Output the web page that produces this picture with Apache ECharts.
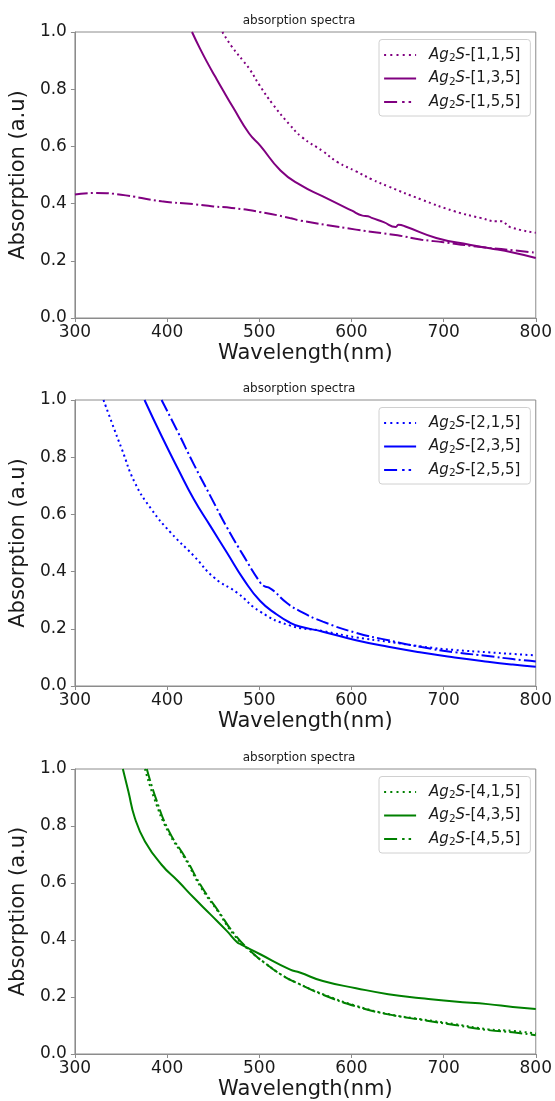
<!DOCTYPE html>
<html>
<head>
<meta charset="utf-8">
<script src="https://cdn.jsdelivr.net/npm/echarts@6/dist/echarts.min.js"></script>
<style>
html,body{margin:0;padding:0;background:#fff;}
#chart{width:555px;height:1101px;}
</style>
</head>
<body>
<div id="chart"></div>
<script>
// ---------- data ----------
const chartTitle = 'absorption spectra';
const xAxisName = 'Wavelength(nm)';
const yAxisName = 'Absorption (a.u)';

// Panel 1 (purple)
const wl_115 = [460, 470, 483, 490, 500, 515, 533, 546, 569, 585, 605, 622, 640, 676, 712, 740, 758, 763, 772, 800];
const ab_115 = [1.0, 0.95, 0.897, 0.868, 0.815, 0.746, 0.676, 0.633, 0.583, 0.545, 0.513, 0.485, 0.46, 0.414, 0.373, 0.35, 0.338, 0.338, 0.318, 0.298];
const wl_135 = [427, 436, 445, 452, 460, 472, 489, 501, 523, 544, 569, 600, 612, 618, 622, 635, 648, 651, 660, 692, 728, 750, 775, 800];
const ab_135 = [1.0, 0.94, 0.885, 0.845, 0.8, 0.734, 0.645, 0.603, 0.516, 0.466, 0.425, 0.376, 0.358, 0.356, 0.35, 0.335, 0.318, 0.326, 0.318, 0.28, 0.256, 0.244, 0.229, 0.21];
const wl_155 = [300, 322, 350, 394, 429, 450, 470, 500, 533, 544, 605, 650, 676, 700, 728, 750, 775, 800];
const ab_155 = [0.432, 0.437, 0.431, 0.408, 0.398, 0.39, 0.385, 0.371, 0.35, 0.341, 0.309, 0.289, 0.274, 0.265, 0.253, 0.245, 0.237, 0.228];

// Panel 2 (blue)
const wl_215 = [331, 340, 351, 365, 383, 404, 429, 451, 476, 501, 533, 569, 605, 640, 676, 712, 748, 775, 800];
const ab_215 = [1.0, 0.921, 0.827, 0.711, 0.618, 0.536, 0.455, 0.379, 0.326, 0.26, 0.212, 0.192, 0.17, 0.155, 0.138, 0.126, 0.118, 0.112, 0.107];
const wl_235 = [375.5, 394, 412, 429, 447, 465, 483, 501, 519, 533, 544, 569, 605, 640, 676, 712, 748, 775, 800];
const ab_235 = [1.0, 0.874, 0.758, 0.653, 0.559, 0.466, 0.373, 0.297, 0.25, 0.222, 0.208, 0.19, 0.16, 0.137, 0.117, 0.1, 0.085, 0.075, 0.067];
const wl_255 = [394, 412, 429, 447, 465, 483, 501, 506, 510, 530, 544, 569, 605, 640, 676, 712, 748, 775, 800];
const ab_255 = [1.0, 0.886, 0.775, 0.664, 0.554, 0.455, 0.362, 0.348, 0.345, 0.29, 0.262, 0.225, 0.186, 0.16, 0.136, 0.118, 0.105, 0.094, 0.086];

// Panel 3 (green)
const wl_415 = [376, 386, 401, 419, 437, 455, 472, 490, 508, 526, 540, 569, 605, 640, 676, 712, 748, 775, 800];
const ab_415 = [1.0, 0.897, 0.781, 0.688, 0.583, 0.501, 0.42, 0.361, 0.315, 0.274, 0.251, 0.21, 0.169, 0.14, 0.122, 0.105, 0.087, 0.081, 0.072];
const wl_435 = [352, 358, 365, 376, 394, 412, 429, 447, 465, 476, 480, 501, 533, 544, 569, 605, 640, 676, 712, 748, 775, 800];
const ab_435 = [1.0, 0.921, 0.828, 0.746, 0.664, 0.606, 0.548, 0.49, 0.431, 0.392, 0.385, 0.35, 0.297, 0.286, 0.256, 0.231, 0.21, 0.196, 0.184, 0.175, 0.165, 0.158];
const wl_455 = [378, 388, 402, 420, 438, 456, 473, 491, 509, 527, 541, 569, 605, 640, 676, 712, 748, 775, 800];
const ab_455 = [1.0, 0.895, 0.782, 0.688, 0.584, 0.5, 0.421, 0.36, 0.312, 0.272, 0.249, 0.208, 0.167, 0.139, 0.12, 0.102, 0.084, 0.076, 0.066];

const names1 = ['Ag2S-[1,1,5]', 'Ag2S-[1,3,5]', 'Ag2S-[1,5,5]'];
const names2 = ['Ag2S-[2,1,5]', 'Ag2S-[2,3,5]', 'Ag2S-[2,5,5]'];
const names3 = ['Ag2S-[4,1,5]', 'Ag2S-[4,3,5]', 'Ag2S-[4,5,5]'];

// ---------- styling / layout ----------
const FONT = 'DejaVu Sans';
const panels = [
  { top: 32,  color: '#800080', names: names1, series: [[wl_115, ab_115], [wl_135, ab_135], [wl_155, ab_155]] },
  { top: 400, color: '#0000ff', names: names2, series: [[wl_215, ab_215], [wl_235, ab_235], [wl_255, ab_255]] },
  { top: 769, color: '#008000', names: names3, series: [[wl_415, ab_415], [wl_435, ab_435], [wl_455, ab_455]] }
];
const dashStyles = [[2, 3.3], 'solid', [12.8, 3.2, 2, 3.2]];
const legendDashStyles = [[2, 4.2], 'solid', [13, 5, 2.5, 4, 2.5, 10]];
const PLOT_LEFT = 72.7, PLOT_W = 466, PLOT_H = 286;
const FRAME = '#8c8c8c';
const TEXT = '#1a1a1a';

const option = {
  animation: false,
  backgroundColor: '#fff',
  textStyle: { fontFamily: FONT },
  title: panels.map(p => ({
    text: chartTitle,
    left: PLOT_LEFT + PLOT_W / 2 - 63,
    top: p.top - 17,
    padding: 0,
    textStyle: { fontFamily: FONT, fontSize: 12, fontWeight: 'normal', color: TEXT }
  })),
  grid: panels.map(p => ({
    left: PLOT_LEFT, top: p.top, width: PLOT_W, height: PLOT_H,
    show: true, borderColor: FRAME, borderWidth: 1, backgroundColor: 'transparent'
  })),
  xAxis: panels.map((p, i) => ({
    type: 'value', gridIndex: i, min: 300, max: 800, interval: 100,
    name: xAxisName, nameLocation: 'middle', nameGap: 25,
    nameTextStyle: { fontFamily: FONT, fontSize: 21, color: TEXT },
    axisLine: { show: true, lineStyle: { color: FRAME, width: 1 } },
    axisTick: { show: true, length: 4, lineStyle: { color: FRAME } },
    axisLabel: { fontFamily: FONT, fontSize: 17, color: TEXT, margin: 6 },
    splitLine: { show: false }
  })),
  yAxis: panels.map((p, i) => ({
    type: 'value', gridIndex: i, min: 0, max: 1, interval: 0.2,
    name: yAxisName, nameLocation: 'middle', nameGap: 34, nameRotate: 90,
    nameTextStyle: { fontFamily: FONT, fontSize: 21, color: TEXT },
    axisLine: { show: true, lineStyle: { color: FRAME, width: 1 } },
    axisTick: { show: true, length: 4, lineStyle: { color: FRAME } },
    axisLabel: { fontFamily: FONT, fontSize: 17, color: TEXT, margin: 8, formatter: v => v.toFixed(1) },
    splitLine: { show: false }
  })),
  legend: panels.map(p => ({
    orient: 'vertical',
    left: 379, top: p.top + 7.5,
    data: p.names.map((n, j) => ({ name: n, lineStyle: { type: legendDashStyles[j], width: 2.2, cap: 'butt' } })),
    itemWidth: 32, itemHeight: 14, itemGap: 7,
    padding: [8, 10, 5, 4],
    backgroundColor: '#fff', borderColor: '#d0d0d0', borderWidth: 1, borderRadius: 3,
    selectedMode: false,
    itemStyle: { color: 'transparent', borderColor: 'transparent', borderWidth: 0, opacity: 0 },
    formatter: name => '{g|Ag}{s|2}{i|S}{n|' + name.slice(4) + '}',
    textStyle: {
      fontFamily: FONT, fontSize: 15, color: TEXT,
      rich: {
        g: { fontFamily: FONT, fontSize: 15, fontStyle: 'italic', lineHeight: 18, color: TEXT, padding: [0, 0, 0, 8] },
        i: { fontFamily: FONT, fontSize: 15, fontStyle: 'italic', lineHeight: 18, color: TEXT },
        s: { fontFamily: FONT, fontSize: 10.5, lineHeight: 11, verticalAlign: 'bottom', color: TEXT },
        n: { fontFamily: FONT, fontSize: 15, lineHeight: 18, color: TEXT }
      }
    }
  })),
  series: []
};

panels.forEach((p, gi) => {
  p.series.forEach(([wl, ab], j) => {
    option.series.push({
      type: 'line',
      name: p.names[j],
      xAxisIndex: gi, yAxisIndex: gi,
      data: wl.map((x, k) => [x, ab[k]]),
      symbol: 'none', showSymbol: false,
      smooth: 0.5,
      clip: true,
      lineStyle: { color: p.color, width: 2, type: dashStyles[j], cap: 'butt' },
      itemStyle: { color: p.color },
      emphasis: { disabled: true },
      silent: true
    });
  });
});

const chart = echarts.init(document.getElementById('chart'), null, { renderer: 'canvas' });
chart.setOption(option);
</script>
</body>
</html>
